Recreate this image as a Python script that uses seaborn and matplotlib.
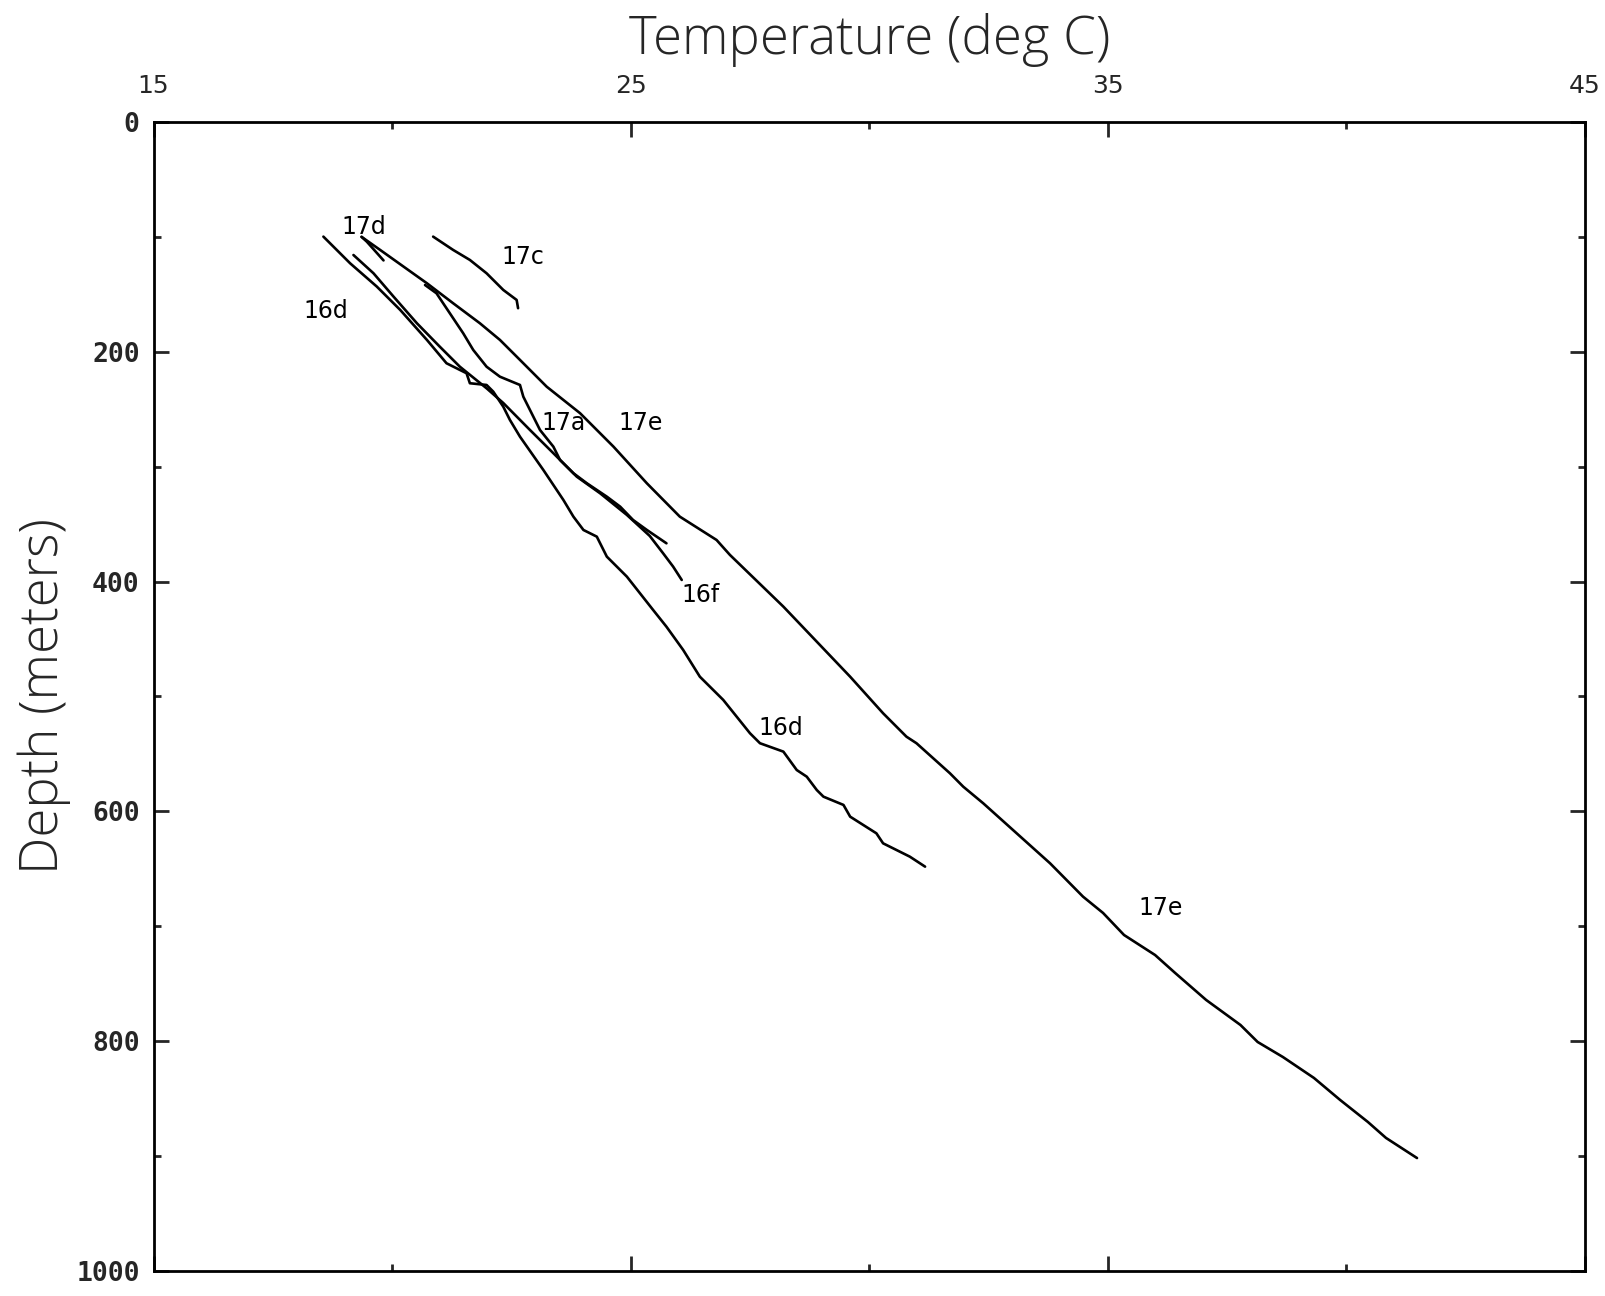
import numpy as np
import pandas as pd
import seaborn as sns
import matplotlib
matplotlib.use("Agg")
import matplotlib.pyplot as plt
from matplotlib.ticker import FixedLocator

# ---- data (temperature deg C, depth m) ----
t_17e = [19.36, 19.75, 20.73, 21.28, 21.84, 22.26, 22.68, 23.24, 23.94, 24.64, 25.34, 26.03,
         26.80, 27.08, 28.20, 29.60, 30.29, 30.78, 30.99, 31.69, 31.97, 32.39, 33.09, 33.79,
         34.48, 34.90, 35.34, 35.99, 36.41, 37.06, 37.78, 38.14, 38.67, 39.32, 39.87, 40.45,
         40.83, 41.48]
d_17e = [100, 111.4, 140.4, 157.8, 175.2, 189.7, 207.1, 230.4, 253.5, 282.6, 314.5, 343.5,
         363.8, 376.8, 421.8, 482.8, 514.6, 535.0, 540.7, 566.8, 578.5, 593.0, 619.1, 645.2,
         674.2, 688.4, 707.6, 725.0, 740.6, 764.1, 785.9, 800.7, 813.8, 832.0, 851.2, 870.3,
         884.2, 901.7]

t_17d = [19.36, 19.47, 19.82]
d_17d = [100, 104.2, 120.5]

t_17c = [20.86, 21.28, 21.63, 21.98, 22.33, 22.61, 22.64]
d_17c = [99.8, 111.4, 120.1, 131.7, 146.2, 154.9, 162.1]

t_16d = [18.56, 19.12, 19.68, 20.17, 20.73, 21.14, 21.56, 21.63, 21.98, 22.12, 22.33, 22.47,
         22.68, 23.17, 23.59, 23.80, 24.01, 24.29, 24.50, 24.92, 25.47, 25.75, 26.10, 26.45,
         26.94, 27.50, 27.71, 28.20, 28.48, 28.69, 28.90, 29.04, 29.46, 29.60, 30.15, 30.29,
         30.85, 31.17]
d_16d = [99.8, 123.0, 143.3, 163.6, 189.7, 210.0, 218.7, 227.4, 228.9, 234.7, 247.8, 259.4,
         273.9, 302.9, 329.0, 343.5, 355.1, 360.9, 378.3, 395.7, 424.7, 439.3, 459.5, 482.8,
         503.0, 532.0, 540.7, 548.0, 564.0, 569.8, 581.4, 587.2, 594.4, 604.6, 619.1, 627.8,
         639.4, 648.1]

t_16f = [19.19, 19.61, 20.03, 20.52, 21.00, 21.42, 21.98, 22.33, 22.89, 23.38, 23.87, 24.36,
         24.92, 25.40, 25.68, 25.89, 26.07]
d_16f = [115.8, 131.7, 152.0, 175.2, 195.6, 213.0, 231.8, 244.6, 268.1, 288.3, 308.7, 323.2,
         342.0, 360.3, 375.4, 387.0, 398.6]

t_17a = [20.69, 20.93, 21.21, 21.49, 21.70, 21.98, 22.26, 22.68, 22.75, 22.89, 23.10, 23.38,
         23.52, 23.80, 24.08, 24.50, 24.78, 25.05, 25.34, 25.75]
d_17a = [141.9, 149.1, 166.5, 183.9, 198.4, 213.0, 221.7, 228.9, 239.1, 250.7, 268.1, 282.6,
         294.2, 305.7, 314.4, 326.1, 334.8, 346.4, 355.1, 366.7]

label_text = ["17d", "17c", "16d", "17a", "17e", "16f", "16d", "17e"]
label_t = [19.40, 22.75, 18.61, 23.59, 25.20, 26.47, 28.14, 36.10]
label_d = [91.7, 117.6, 164.8, 262.0, 262.0, 411.8, 527.7, 684.5]

x_ticks_major = [15, 25, 35, 45]
x_ticks_minor = [20, 30, 40]
y_ticks_major = [0, 200, 400, 600, 800, 1000]
y_ticks_minor = [100, 300, 500, 700, 900]
y_tick_labels = ["0", "200", "400", "600", "800", "1000"]

profiles = {
    "17e": (t_17e, d_17e), "17d": (t_17d, d_17d), "17c": (t_17c, d_17c),
    "16d": (t_16d, d_16d), "16f": (t_16f, d_16f), "17a": (t_17a, d_17a),
}
rows = []
for name, (tt, dd) in profiles.items():
    for i, (a, b) in enumerate(zip(tt, dd)):
        rows.append({"profile": name, "order": i, "T": a, "D": b})
df = pd.DataFrame(rows)

sns.set_style("white")
plt.rcParams["font.family"] = ["DejaVu Sans"]

fig = plt.figure(figsize=(16.06, 12.96), dpi=100)
ax = fig.add_axes([0.0956, 0.0193, 0.8913, 0.8866])

sns.lineplot(data=df, x="T", y="D", units="profile", estimator=None, sort=False,
             color="black", linewidth=1.9, ax=ax, legend=False)

ax.set_xlim(15, 45)
ax.set_ylim(1000, 0)

ax.xaxis.set_major_locator(FixedLocator(x_ticks_major))
ax.xaxis.set_minor_locator(FixedLocator(x_ticks_minor))
ax.yaxis.set_major_locator(FixedLocator(y_ticks_major))
ax.yaxis.set_minor_locator(FixedLocator(y_ticks_minor))
ax.set_yticklabels(y_tick_labels, fontfamily="DejaVu Sans Mono", fontweight="bold", fontsize=19)
ax.set_xticklabels([str(v) for v in x_ticks_major], fontsize=18, fontfamily="DejaVu Sans")

ax.tick_params(axis="x", which="both", direction="in", top=True, bottom=True,
               labeltop=True, labelbottom=False, width=2, pad=17)
ax.tick_params(axis="y", which="both", direction="in", left=True, right=True,
               labelleft=True, labelright=False, width=2, pad=10)
ax.tick_params(which="major", length=11)
ax.tick_params(which="minor", length=5)

for sp in ax.spines.values():
    sp.set_linewidth(2)
    sp.set_color("black")

ax.xaxis.set_label_position("top")
ax.set_xlabel("Temperature (deg C)", fontsize=38, fontfamily="Open Sans", fontweight="light",
              labelpad=15)
ax.set_ylabel("Depth (meters)", fontsize=38, fontfamily="Open Sans", fontweight="light",
              labelpad=4)

for txt, tx, dy in zip(label_text, label_t, label_d):
    ax.text(tx, dy, txt, fontsize=17, ha="center", va="center", color="black")

fig.savefig("out.png", dpi=100)
